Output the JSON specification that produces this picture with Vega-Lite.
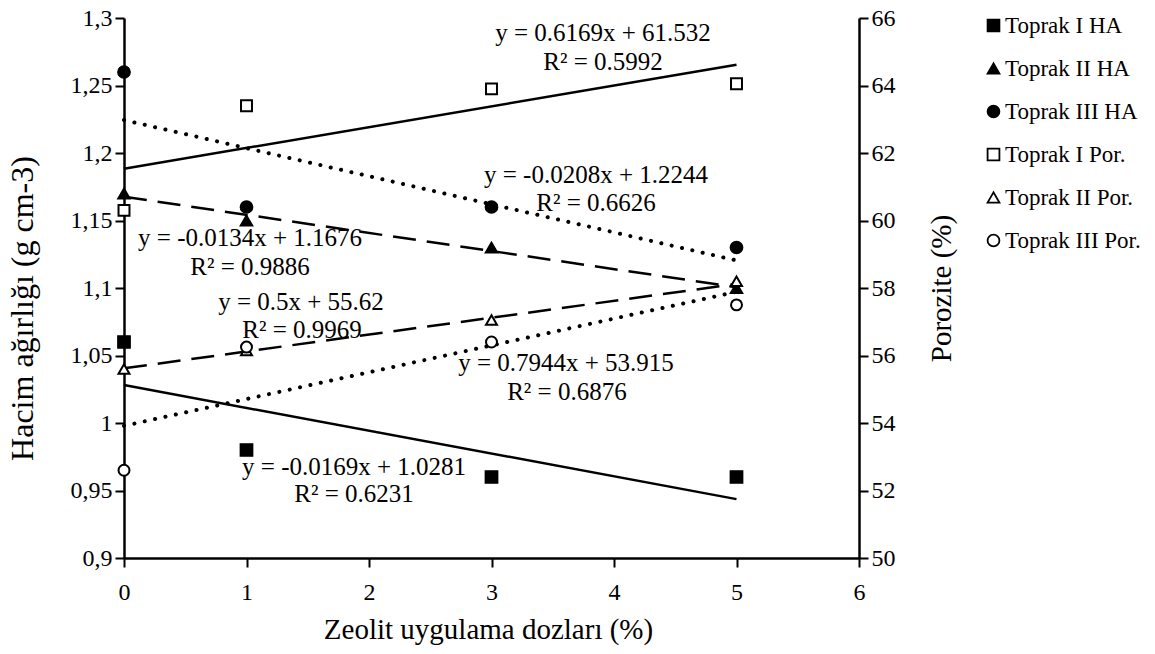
{
  "$schema": "https://vega.github.io/schema/vega-lite/v6.json",
  "width": 735,
  "height": 540,
  "autosize": {"type": "none"},
  "padding": {"left": 124, "top": 18, "right": 296, "bottom": 96},
  "background": "white",
  "config": {
    "view": {"stroke": null},
    "font": "Liberation Serif",
    "axis": {
      "grid": false,
      "domainColor": "black",
      "domainWidth": 2.5,
      "tickColor": "black",
      "tickWidth": 2,
      "tickSize": 9,
      "labelFont": "Liberation Serif",
      "labelFontSize": 24,
      "labelColor": "black",
      "titleFont": "Liberation Serif",
      "titleFontSize": 29,
      "titleFontWeight": "normal",
      "titleColor": "black",
      "labelFlush": false,
      "labelOverlap": false
    },
    "legend": {
      "title": null,
      "labelFontSize": 23,
      "labelFont": "Liberation Serif",
      "labelColor": "black",
      "symbolSize": 140,
      "symbolStrokeColor": "black",
      "symbolStrokeWidth": 1.8,
      "rowPadding": 19,
      "labelOffset": 0,
      "padding": 0
    }
  },
  "encoding": {
    "x": {
      "field": "x",
      "type": "quantitative",
      "scale": {"domain": [0, 6], "nice": false, "zero": false},
      "axis": {
        "title": "Zeolit uygulama dozları (%)",
        "values": [0, 1, 2, 3, 4, 5, 6],
        "labelBaseline": "middle",
        "labelPadding": 25,
        "titleX": 364,
        "titleY": 71,
        "titleBaseline": "middle"
      }
    }
  },
  "layer": [
    {
      "encoding": {
        "y": {
          "field": "v",
          "type": "quantitative",
          "scale": {"domain": [0.9, 1.3], "nice": false, "zero": false},
          "axis": {
            "orient": "left",
            "title": "Hacim ağırlığı (g cm-3)",
            "values": [0.9, 0.95, 1, 1.05, 1.1, 1.15, 1.2, 1.25, 1.3],
            "labelExpr": "replace(format(datum.value, '~g'), '.', ',') + '\u00a0\u00a0\u00a0'",
            "labelPadding": 3,
            "titleFontSize": 32,
            "titleX": -102,
            "titleY": 290,
            "titleAngle": 270,
            "titleBaseline": "middle",
            "titleAlign": "center"
          }
        }
      },
      "layer": [
        {
          "data": {"values": [
            {"series": "Toprak I HA", "x": 0, "v": 1.0281},
            {"series": "Toprak I HA", "x": 5, "v": 0.9436}
          ]},
          "mark": {"type": "line", "stroke": "black", "strokeWidth": 2.5}
        },
        {
          "data": {"values": [
            {"series": "Toprak II HA", "x": 0, "v": 1.1676},
            {"series": "Toprak II HA", "x": 5, "v": 1.1006}
          ]},
          "mark": {"type": "line", "stroke": "black", "strokeWidth": 2.5, "strokeDash": [23, 11]}
        },
        {
          "data": {"values": [
            {"series": "Toprak III HA", "x": 0, "v": 1.2244},
            {"series": "Toprak III HA", "x": 5, "v": 1.1204}
          ]},
          "mark": {"type": "line", "stroke": "black", "strokeWidth": 4, "strokeCap": "round", "strokeDash": [0.1, 10.5]}
        },
        {
          "data": {"values": [
            {"series": "Toprak I HA", "x": 0, "v": 1.06},
            {"series": "Toprak I HA", "x": 1, "v": 0.98},
            {"series": "Toprak I HA", "x": 3, "v": 0.96},
            {"series": "Toprak I HA", "x": 5, "v": 0.96},
            {"series": "Toprak II HA", "x": 0, "v": 1.17},
            {"series": "Toprak II HA", "x": 1, "v": 1.15},
            {"series": "Toprak II HA", "x": 3, "v": 1.13},
            {"series": "Toprak II HA", "x": 5, "v": 1.10},
            {"series": "Toprak III HA", "x": 0, "v": 1.26},
            {"series": "Toprak III HA", "x": 1, "v": 1.16},
            {"series": "Toprak III HA", "x": 3, "v": 1.16},
            {"series": "Toprak III HA", "x": 5, "v": 1.13}
          ]},
          "mark": {"type": "point", "filled": true, "strokeWidth": 1.5, "size": 150, "opacity": 1},
          "encoding": {
            "shape": {
              "field": "series",
              "type": "nominal",
              "scale": {
                "domain": ["Toprak I HA", "Toprak II HA", "Toprak III HA", "Toprak I Por.", "Toprak II Por.", "Toprak III Por."],
                "range": ["square", "triangle-up", "circle", "square", "triangle-up", "circle"]
              },
              "legend": {"title": null, "orient": "none", "legendX": 858, "legendY": -4}
            },
            "fill": {
              "field": "series",
              "type": "nominal",
              "scale": {
                "domain": ["Toprak I HA", "Toprak II HA", "Toprak III HA", "Toprak I Por.", "Toprak II Por.", "Toprak III Por."],
                "range": ["black", "black", "black", "white", "white", "white"]
              },
              "legend": {"title": null, "orient": "none", "legendX": 858, "legendY": -4}
            },
            "stroke": {
              "field": "series",
              "type": "nominal",
              "scale": {
                "domain": ["Toprak I HA", "Toprak II HA", "Toprak III HA", "Toprak I Por.", "Toprak II Por.", "Toprak III Por."],
                "range": ["black", "black", "black", "black", "black", "black"]
              },
              "legend": {"title": null, "orient": "none", "legendX": 858, "legendY": -4}
            }
          }
        },
        {
          "data": {"values": [
            {"label": "y = 0.6169x + 61.532", "x": 3.91, "v": 1.2889},
            {"label": "R² = 0.5992", "x": 3.91, "v": 1.2674},
            {"label": "y = -0.0208x + 1.2244", "x": 3.853, "v": 1.1837},
            {"label": "R² = 0.6626", "x": 3.853, "v": 1.163},
            {"label": "y = -0.0134x + 1.1676", "x": 1.029, "v": 1.137},
            {"label": "R² = 0.9886", "x": 1.029, "v": 1.1156},
            {"label": "y = 0.5x + 55.62", "x": 1.445, "v": 1.0896},
            {"label": "R² = 0.9969", "x": 1.453, "v": 1.0689},
            {"label": "y = 0.7944x + 53.915", "x": 3.608, "v": 1.0444},
            {"label": "R² = 0.6876", "x": 3.616, "v": 1.023},
            {"label": "y = -0.0169x + 1.0281", "x": 1.878, "v": 0.9674},
            {"label": "R² = 0.6231", "x": 1.878, "v": 0.9474}
          ]},
          "mark": {"type": "text", "font": "Liberation Serif", "fontSize": 25, "color": "black", "align": "center", "baseline": "middle"},
          "encoding": {"text": {"field": "label"}}
        }
      ]
    },
    {
      "encoding": {
        "y": {
          "field": "v",
          "type": "quantitative",
          "scale": {"domain": [50, 66], "nice": false, "zero": false},
          "axis": {
            "orient": "right",
            "title": "Porozite (%)",
            "values": [50, 52, 54, 56, 58, 60, 62, 64, 66],
            "labelExpr": "'\u00a0\u00a0\u00a0' + datum.label",
            "labelPadding": 3,
            "titleFontSize": 29,
            "titleX": 82,
            "titleY": 270,
            "titleAngle": 270,
            "titleBaseline": "middle",
            "titleAlign": "center"
          }
        }
      },
      "layer": [
        {
          "data": {"values": [
            {"series": "Toprak I Por.", "x": 0, "v": 61.532},
            {"series": "Toprak I Por.", "x": 5, "v": 64.617}
          ]},
          "mark": {"type": "line", "stroke": "black", "strokeWidth": 2.5}
        },
        {
          "data": {"values": [
            {"series": "Toprak II Por.", "x": 0, "v": 55.62},
            {"series": "Toprak II Por.", "x": 5, "v": 58.12}
          ]},
          "mark": {"type": "line", "stroke": "black", "strokeWidth": 2.5, "strokeDash": [23, 11]}
        },
        {
          "data": {"values": [
            {"series": "Toprak III Por.", "x": 0, "v": 53.915},
            {"series": "Toprak III Por.", "x": 5, "v": 57.887}
          ]},
          "mark": {"type": "line", "stroke": "black", "strokeWidth": 4, "strokeCap": "round", "strokeDash": [0.1, 10.5]}
        },
        {
          "data": {"values": [
            {"series": "Toprak I Por.", "x": 0, "v": 60.3},
            {"series": "Toprak I Por.", "x": 1, "v": 63.4},
            {"series": "Toprak I Por.", "x": 3, "v": 63.9},
            {"series": "Toprak I Por.", "x": 5, "v": 64.05},
            {"series": "Toprak II Por.", "x": 0, "v": 55.6},
            {"series": "Toprak II Por.", "x": 1, "v": 56.15},
            {"series": "Toprak II Por.", "x": 3, "v": 57.05},
            {"series": "Toprak II Por.", "x": 5, "v": 58.2},
            {"series": "Toprak III Por.", "x": 0, "v": 52.6},
            {"series": "Toprak III Por.", "x": 1, "v": 56.25},
            {"series": "Toprak III Por.", "x": 3, "v": 56.4},
            {"series": "Toprak III Por.", "x": 5, "v": 57.5}
          ]},
          "mark": {"type": "point", "filled": true, "strokeWidth": 2, "size": 120, "opacity": 1},
          "encoding": {
            "shape": {
              "field": "series",
              "type": "nominal",
              "scale": {
                "domain": ["Toprak I HA", "Toprak II HA", "Toprak III HA", "Toprak I Por.", "Toprak II Por.", "Toprak III Por."],
                "range": ["square", "triangle-up", "circle", "square", "triangle-up", "circle"]
              },
              "legend": {"title": null, "orient": "none", "legendX": 858, "legendY": -4}
            },
            "fill": {
              "field": "series",
              "type": "nominal",
              "scale": {
                "domain": ["Toprak I HA", "Toprak II HA", "Toprak III HA", "Toprak I Por.", "Toprak II Por.", "Toprak III Por."],
                "range": ["black", "black", "black", "white", "white", "white"]
              },
              "legend": {"title": null, "orient": "none", "legendX": 858, "legendY": -4}
            },
            "stroke": {
              "field": "series",
              "type": "nominal",
              "scale": {
                "domain": ["Toprak I HA", "Toprak II HA", "Toprak III HA", "Toprak I Por.", "Toprak II Por.", "Toprak III Por."],
                "range": ["black", "black", "black", "black", "black", "black"]
              },
              "legend": {"title": null, "orient": "none", "legendX": 858, "legendY": -4}
            }
          }
        }
      ]
    }
  ],
  "resolve": {"scale": {"y": "independent"}}
}
